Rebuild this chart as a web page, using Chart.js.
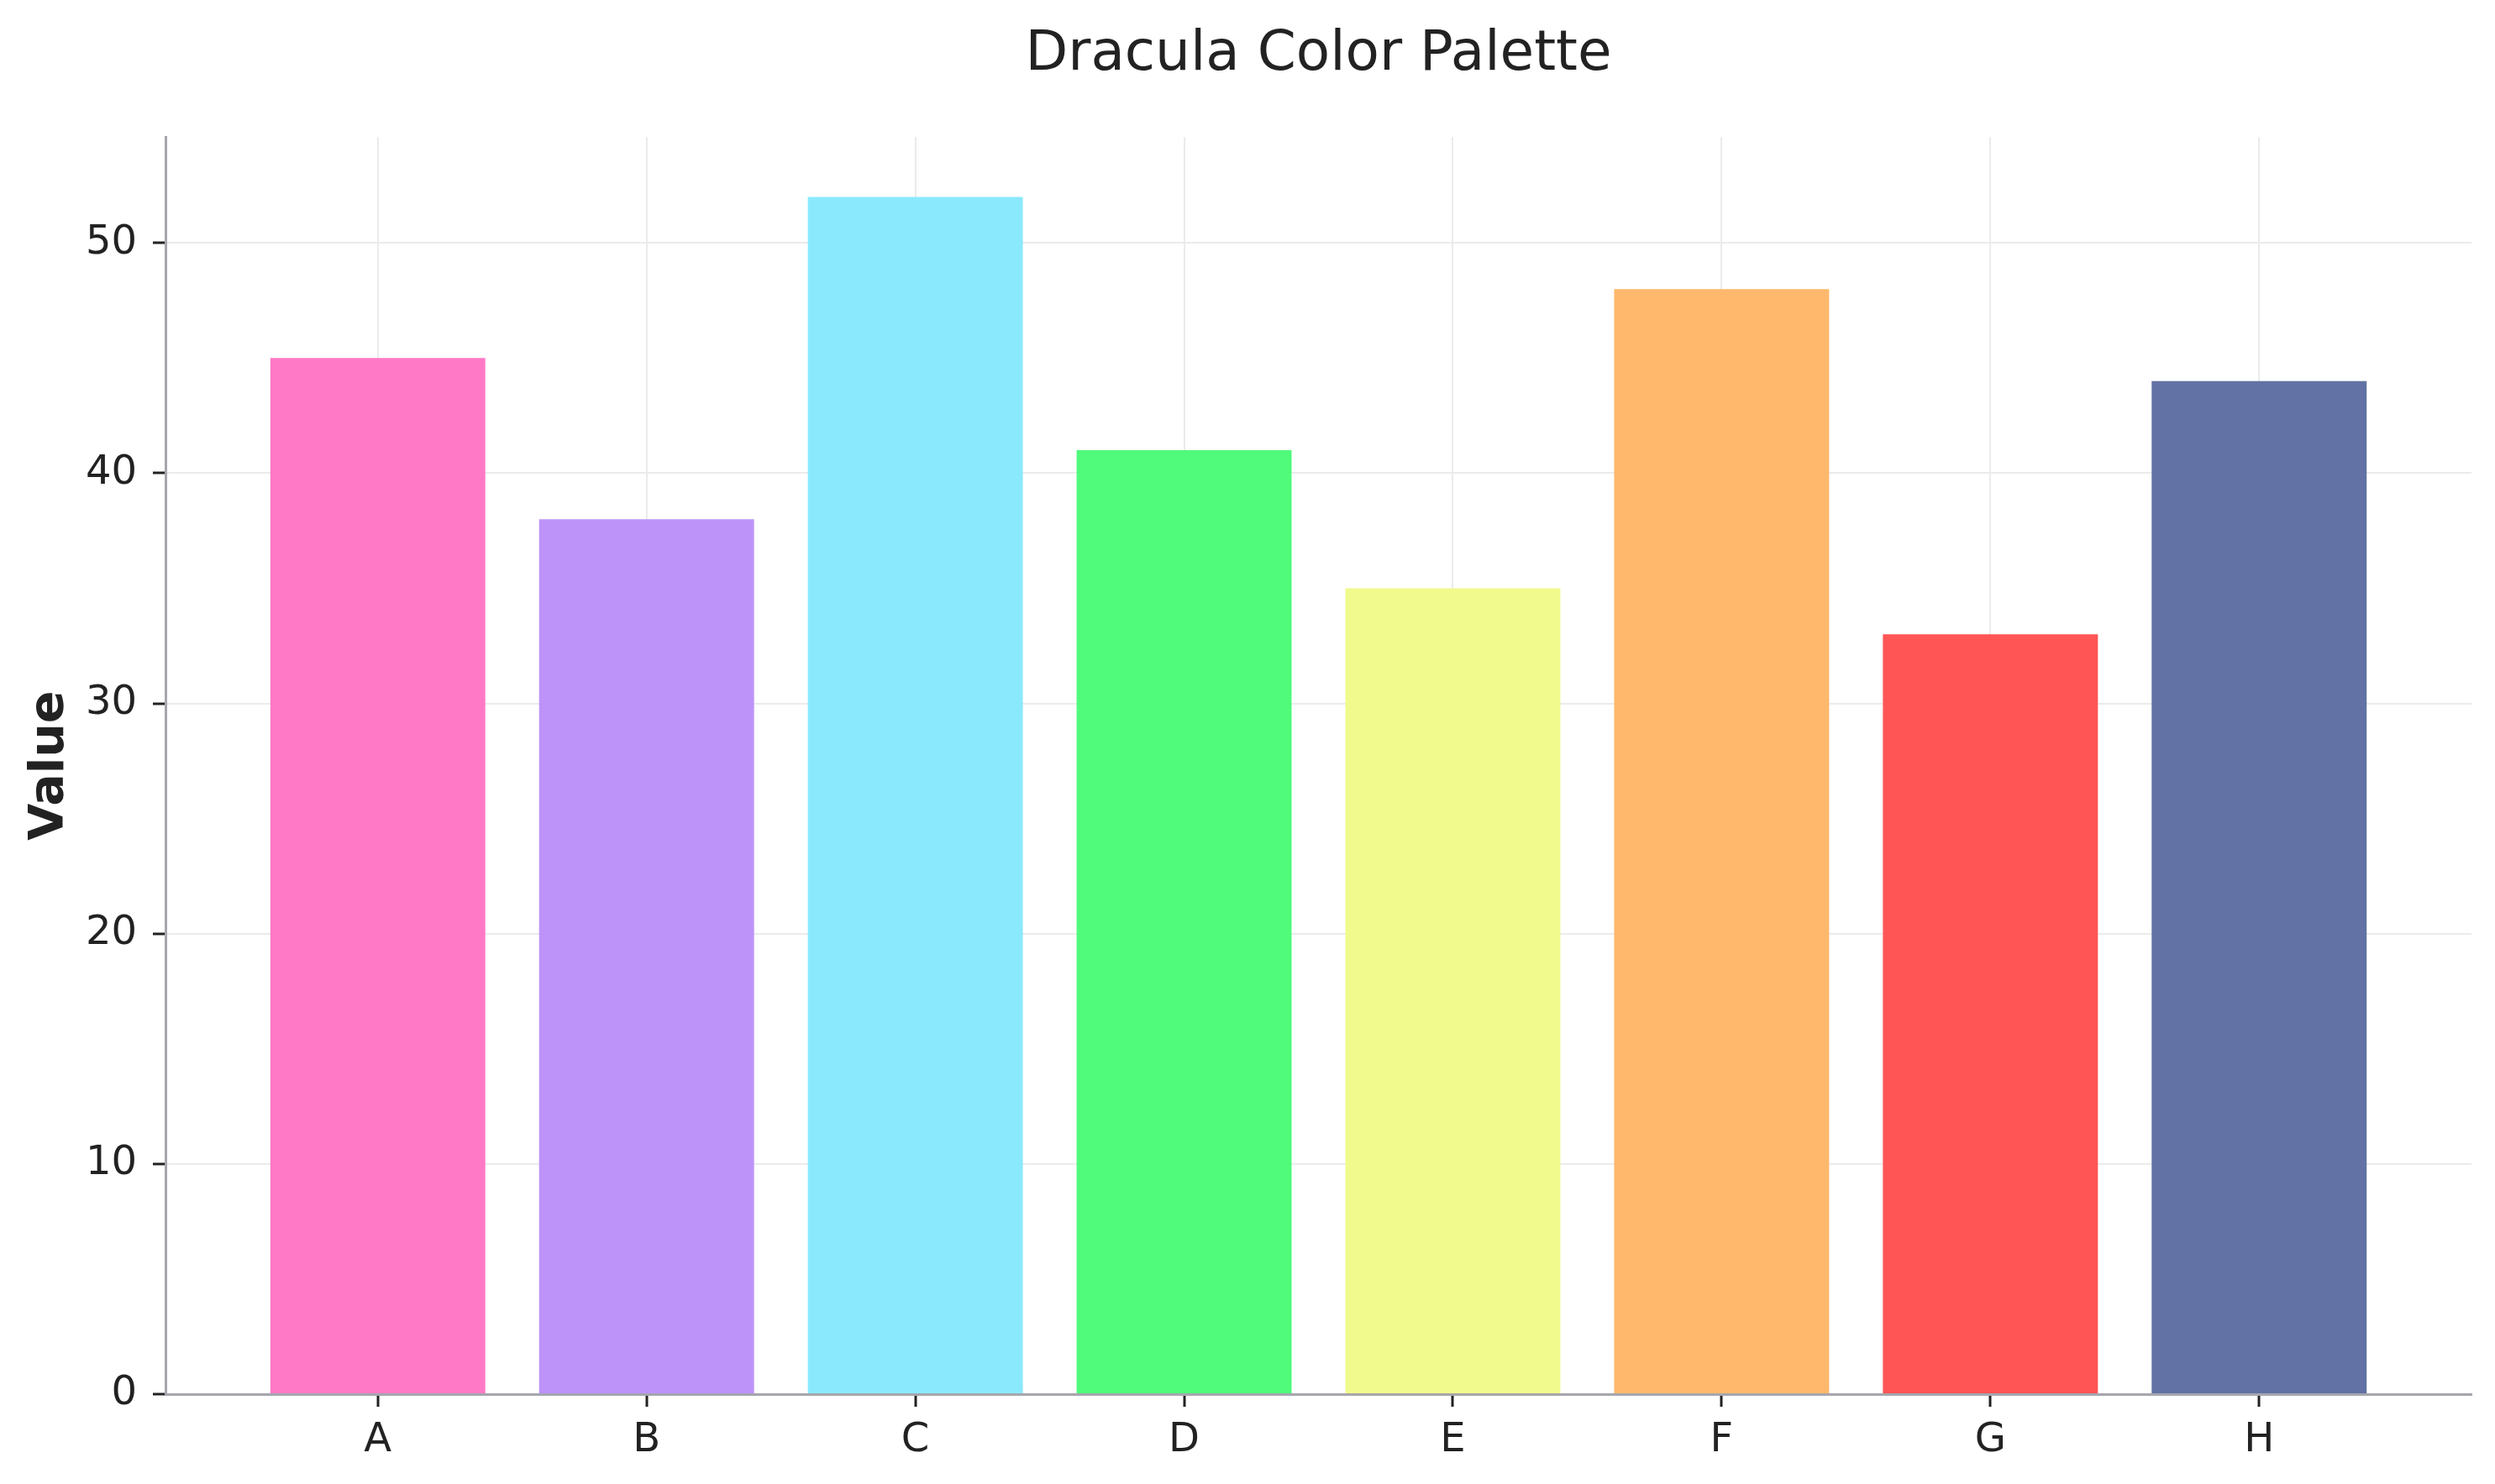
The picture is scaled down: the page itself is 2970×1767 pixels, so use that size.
<!DOCTYPE html>
<html>
<head>
<meta charset="utf-8">
<script src="https://cdn.jsdelivr.net/npm/chart.js@4.4.0/dist/chart.umd.min.js"></script>
<style>html,body{margin:0;padding:0;background:#fff}</style>
</head>
<body>
<canvas id="myChart" width="2970" height="1767" style="width:2970px;height:1767px"></canvas>
<script>
// data
var categories = ["A", "B", "C", "D", "E", "F", "G", "H"];
var values = [45, 38, 52, 41, 35, 48, 33, 44];
var barColors = ["#ff79c6", "#bd93f9", "#8be9fd", "#50fa7b", "#f1fa8c", "#ffb86c", "#ff5555", "#6272a4"];
var yTicks = [0, 10, 20, 30, 40, 50];

var FONT = "'DejaVu Sans', sans-serif";
var TEXT = "#222222";
var SPINE = "#a6a6ae";
var GRID = "#ebebeb";

var ctx = document.getElementById("myChart").getContext('2d');
var myChart = new Chart(ctx, {
    type: 'bar',
    data: {
        datasets: [{
            data: categories.map(function (c, i) { return {x: i, y: values[i]}; }),
            backgroundColor: barColors,
            borderWidth: 0,
            barPercentage: 0.8,
            categoryPercentage: 1.0
        }]
    },
    options: {
        responsive: false,
        devicePixelRatio: 1,
        animation: false,
        layout: {padding: {top: 0, left: 0, right: 28, bottom: 0}},
        plugins: {
            legend: {display: false},
            tooltip: {enabled: false},
            title: {
                display: true,
                fullSize: false,   // centre over the plot area, not the whole canvas
                text: 'Dracula Color Palette',
                color: TEXT,
                font: {family: FONT, size: 66, weight: 'normal'},
                padding: {top: 26, bottom: 58}
            }
        },
        scales: {
            x: {
                type: 'linear',
                min: -0.79,
                max: 7.79,
                offset: false,
                afterBuildTicks: function (scale) {
                    scale.ticks = categories.map(function (c, i) { return {value: i}; });
                },
                afterFit: function (scale) { scale.height = 107; },
                ticks: {
                    color: TEXT,
                    font: {family: FONT, size: 48},
                    padding: 12,
                    maxRotation: 0,
                    autoSkip: false,
                    callback: function (v) { return categories[v]; }
                },
                grid: {offset: false, color: GRID, lineWidth: 2, tickColor: TEXT, tickLength: 15, tickWidth: 3},
                border: {color: SPINE, width: 3}
            },
            y: {
                min: 0,
                max: 54.6,
                afterBuildTicks: function (scale) {
                    scale.ticks = yTicks.map(function (v) { return {value: v}; });
                },
                afterFit: function (scale) { scale.width = 197; },
                ticks: {
                    color: TEXT,
                    font: {family: FONT, size: 48},
                    padding: 19
                },
                grid: {color: GRID, lineWidth: 2, tickColor: TEXT, tickLength: 15, tickWidth: 3},
                border: {color: SPINE, width: 3},
                title: {
                    display: true,
                    text: 'Value',
                    color: TEXT,
                    font: {family: FONT, size: 57, weight: 'bold'},
                    padding: {top: 26, bottom: 0}
                }
            }
        }
    }
});
</script>
</body>
</html>
